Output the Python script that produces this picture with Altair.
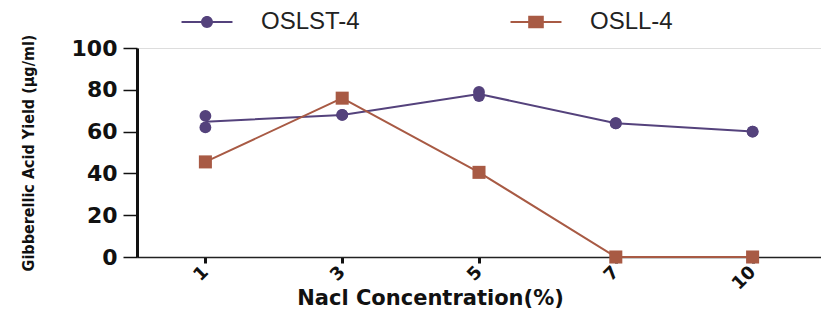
import altair as alt
import pandas as pd

conc = ["1", "3", "5", "7", "10"]
oslst_rep1 = [67.5, 68, 79, 64, 60]
oslst_rep2 = [62, 68, 77, 64, 60]
osll = [45.5, 76, 40.5, 0, 0]
series = ["OSLST-4", "OSLL-4"]
colors = ["#54427c", "#a85a44"]

rows = []
for i, c in enumerate(conc):
    rows.append({"conc": c, "series": series[0], "value": oslst_rep1[i]})
    rows.append({"conc": c, "series": series[0], "value": oslst_rep2[i]})
    rows.append({"conc": c, "series": series[1], "value": osll[i]})
df = pd.DataFrame(rows)

x = alt.X(
    "conc:O",
    sort=conc,
    scale=alt.Scale(type="point", padding=0.5),
    axis=alt.Axis(
        title="Nacl Concentration(%)",
        titleFont="DejaVu Sans",
        titleFontWeight="bold",
        titleFontSize=21,
        titleColor="#111",
        titleX=293,
        titleY=41,
        titleAlign="center",
        titleBaseline="middle",
        labelAngle=315,
        labelAlign="right",
        labelBaseline="middle",
        labelFont="DejaVu Sans",
        labelFontWeight="bold",
        labelFontSize=18,
        labelColor="#111",
        labelPadding=6,
        tickSize=6,
        tickWidth=3,
        tickColor="#111",
        domainColor="#222",
        domainWidth=1.5,
        grid=False,
    ),
)
yaxis = alt.Axis(
    title="Gibberellic Acid Yield  (µg/ml)",
    titleFont="DejaVu Sans Condensed",
    titleFontWeight="bold",
    titleFontSize=16,
    titleColor="#111",
    titleX=-109,
    titleBaseline="middle",
    values=[0, 20, 40, 60, 80, 100],
    labelFont="DejaVu Sans",
    labelFontWeight="bold",
    labelFontSize=22,
    labelColor="#111",
    labelPadding=6,
    tickSize=14,
    tickWidth=1.5,
    tickColor="#111",
    domainColor="#111",
    domainWidth=3,
    grid=False,
)
yscale = alt.Scale(domain=[0, 100], nice=False)

base = alt.Chart(df)

line_layers = []
for s, col in zip(series, colors):
    line_layers.append(
        base.transform_filter(alt.datum.series == s)
        .mark_line(color=col, strokeWidth=2)
        .encode(x=x, y=alt.Y("mean(value):Q", scale=yscale, axis=yaxis))
    )

pts1 = base.transform_filter(alt.datum.series == series[0]).mark_point(
    shape="circle", filled=True, size=140, opacity=1, color=colors[0]
).encode(x=x, y=alt.Y("value:Q", scale=yscale, axis=yaxis))
pts2 = base.transform_filter(alt.datum.series == series[1]).mark_point(
    shape="square", filled=True, size=170, opacity=1, color=colors[1]
).encode(x=x, y=alt.Y("value:Q", scale=yscale, axis=yaxis))

# legend glyphs: a line through a marker (unit = half symbol width, 13 px)
circ = "M-1.96,-0.08H1.96V0.08H-1.96Z M-0.46,0A0.46,0.46 0 1,1 0.46,0A0.46,0.46 0 1,1 -0.46,0Z"
sq = "M-1.96,-0.08H1.96V0.08H-1.96Z M-0.6,-0.48H0.6V0.48H-0.6Z"

leg = dict(
    orient="none",
    legendX=57,
    legendY=-39,
    direction="horizontal",
    title=None,
    symbolSize=676,
    symbolOpacity=1,
    symbolStrokeWidth=0,
    labelFont="Liberation Sans",
    labelFontSize=24,
    labelColor="#222",
    labelOffset=41,
    columnPadding=150,
)

legend_layer = base.mark_point(filled=True, opacity=0).encode(
    x=x,
    y=alt.Y("value:Q", scale=yscale, axis=yaxis),
    color=alt.Color("series:N", scale=alt.Scale(domain=series, range=colors), legend=alt.Legend(**leg)),
    shape=alt.Shape("series:N", scale=alt.Scale(domain=series, range=[circ, sq]), legend=alt.Legend(**leg)),
)

chart = alt.layer(*line_layers, pts1, pts2, legend_layer).properties(
    width=684,
    height=209,
    autosize=alt.AutoSizeParams(type="none"),
    padding={"left": 129, "top": 40, "right": 0, "bottom": 52},
).configure_view(stroke=None).configure(background="white")

chart.save("out.html", embed_options={"renderer": "svg", "actions": False})
